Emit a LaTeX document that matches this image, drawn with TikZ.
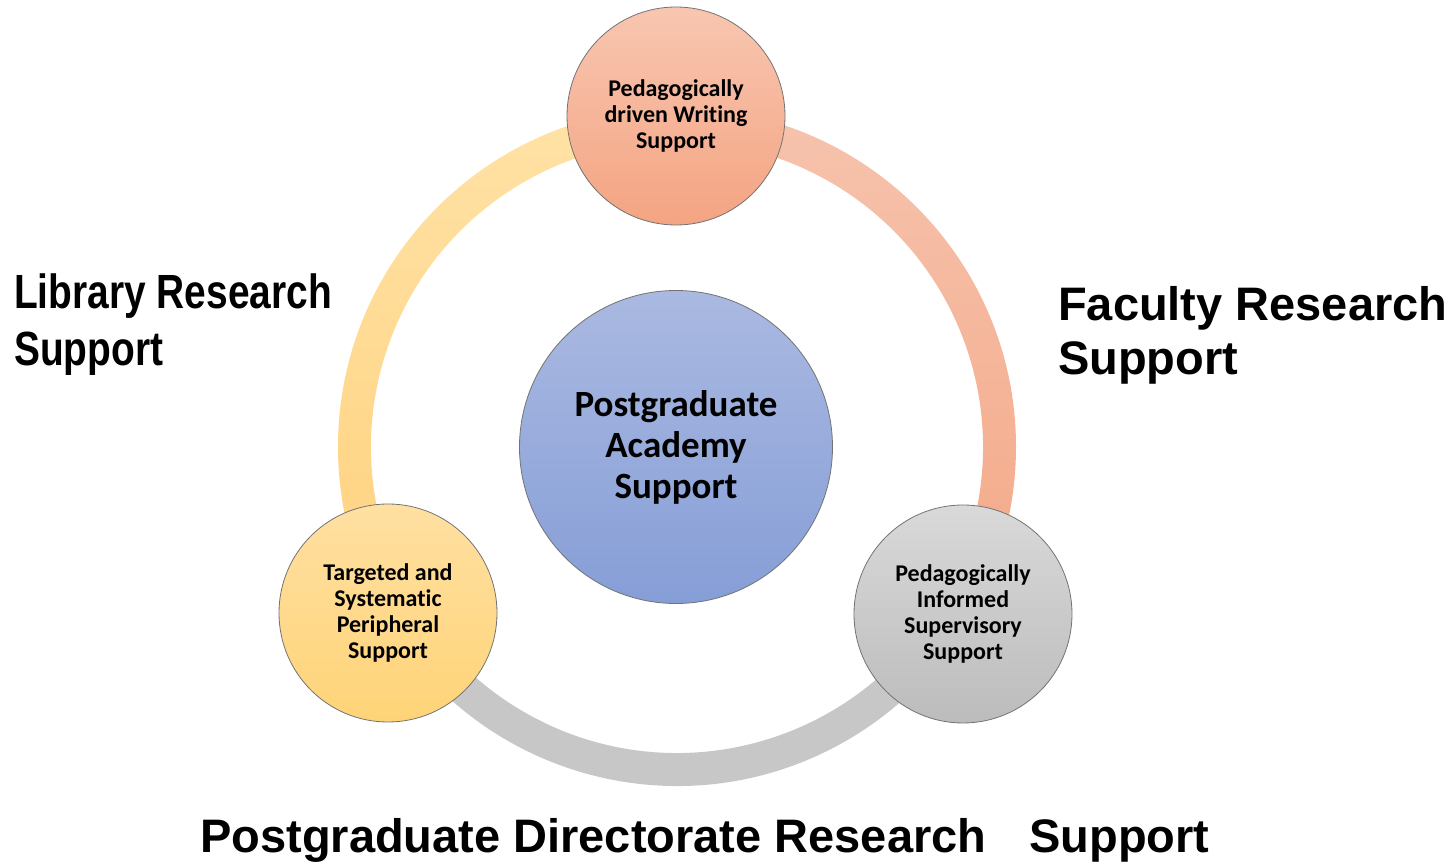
\documentclass[tikz,border=0pt]{standalone}
\usepackage{fontspec}
\setmainfont{Carlito}[Ligatures=NoCommon]
\newfontfamily\arialfont{Liberation Sans}
\newfontfamily\arialnarrow{Liberation Sans}[FakeStretch=0.81]
\usetikzlibrary{calc}
\definecolor{salmonT}{HTML}{F8C6B1}
\definecolor{salmonB}{HTML}{F4A482}
\definecolor{arcSalT}{HTML}{F6C3AD}
\definecolor{arcSalB}{HTML}{F4A887}
\definecolor{yelT}{HTML}{FFE0A2}
\definecolor{yelB}{HTML}{FFD478}
\definecolor{arcYelT}{HTML}{FFE2A6}
\definecolor{arcYelB}{HTML}{FFD27E}
\definecolor{grayT}{HTML}{D9D9D9}
\definecolor{grayB}{HTML}{BCBCBC}
\definecolor{arcGray}{HTML}{C7C7C7}
\definecolor{blueT}{HTML}{AAB9E1}
\definecolor{blueB}{HTML}{869ED7}
\tikzset{
  smallcirc/.style={circle, draw=black!55, line width=0.8pt, minimum size=218pt,
    inner sep=0pt, align=center, font=\fontsize{24}{26}\selectfont\bfseries},
  bigcirc/.style={circle, draw=black!55, line width=0.8pt, minimum size=313pt,
    inner sep=0pt, align=center, font=\fontsize{37}{41}\selectfont\bfseries},
  outerlabel/.style={inner sep=0pt, align=left, text=black}
}
\begin{document}
\begin{tikzpicture}[x=1pt,y=1pt]
\useasboundingbox (0,0) rectangle (1452,863);
\fill[white] (0,0) rectangle (1452,863);
\coordinate (C) at (677,416);
% ring segments
\shade[top color=arcSalT, bottom color=arcSalB]
  ($(C)+(90:339)$) arc[start angle=90,end angle=-30,radius=339]
  -- ($(C)+(-30:306)$) arc[start angle=-30,end angle=90,radius=306] -- cycle;
\shade[top color=arcYelT, bottom color=arcYelB]
  ($(C)+(90:339)$) arc[start angle=90,end angle=210,radius=339]
  -- ($(C)+(210:306)$) arc[start angle=210,end angle=90,radius=306] -- cycle;
\fill[arcGray]
  ($(C)+(210:339)$) arc[start angle=210,end angle=330,radius=339]
  -- ($(C)+(330:306)$) arc[start angle=330,end angle=210,radius=306] -- cycle;
% circles
\node[bigcirc, top color=blueT, bottom color=blueB] (center) at (676,416)
  {Postgraduate\\Academy\\Support};
\node[smallcirc, top color=salmonT, bottom color=salmonB] (top) at (676,747)
  {Pedagogically\\driven Writing\\Support};
\node[smallcirc, top color=yelT, bottom color=yelB] (left) at (388,250)
  {Targeted and\\Systematic\\Peripheral\\Support};
\node[smallcirc, top color=grayT, bottom color=grayB] (right) at (963,249)
  {Pedagogically\\Informed\\Supervisory\\Support};
% outer labels
\node[outerlabel, anchor=west, font=\arialnarrow\bfseries\fontsize{48}{57}\selectfont]
  (lib) at (14,538) {Library Research\\Support};
\node[outerlabel, anchor=west, font=\arialfont\bfseries\fontsize{47}{54}\selectfont]
  (fac) at (1058,528) {Faculty Research\\Support};
\node[outerlabel, anchor=base west, font=\arialfont\bfseries\fontsize{47}{54}\selectfont]
  (pgd) at (200,11) {Postgraduate Directorate Research\hspace{30pt} Support};
\end{tikzpicture}
\end{document}
